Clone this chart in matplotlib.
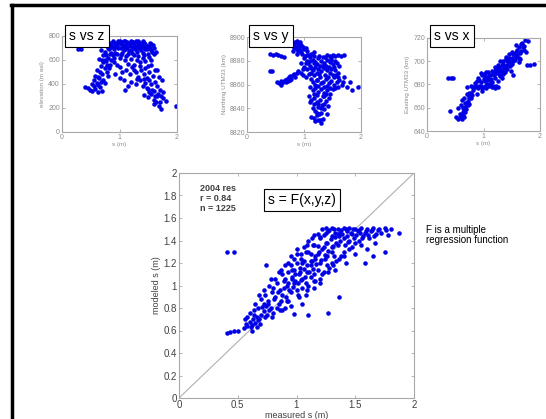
import matplotlib.pyplot as plt
from matplotlib.lines import Line2D

plt.rcParams['font.family'] = ['Liberation Sans', 'DejaVu Sans']

s_vs_z = [
    (0.27, 690), (0.33, 688), (0.40, 378), (0.45, 365), (0.48, 350), (0.52, 342),
    (0.55, 380), (0.58, 355), (0.62, 330), (0.60, 410), (0.66, 372), (0.70, 345),
    (0.58, 470), (0.62, 455), (0.66, 500), (0.60, 520), (0.70, 480), (0.72, 430),
    (0.75, 410), (0.68, 550), (0.74, 530), (0.78, 500), (0.80, 470), (0.65, 610),
    (0.70, 600), (0.72, 640), (0.77, 590), (0.80, 620), (0.84, 560), (0.86, 600),
    (0.90, 580), (0.68, 680), (0.75, 670), (0.80, 700), (0.85, 660), (0.90, 690),
    (0.95, 650), (0.98, 700), (1.00, 620), (1.05, 660), (1.10, 690), (1.15, 650),
    (1.20, 680), (1.25, 640), (1.30, 670), (1.35, 700), (1.40, 660), (1.45, 690),
    (1.50, 650), (1.55, 680), (1.60, 700), (0.85, 730), (0.92, 745), (1.00, 760),
    (1.05, 735), (1.10, 755), (1.15, 740), (1.20, 760), (1.25, 735), (1.30, 750),
    (1.35, 740), (1.40, 755), (1.45, 730), (1.50, 720), (1.55, 735), (0.95, 720),
    (1.08, 715), (1.18, 715), (1.28, 712), (1.38, 718), (1.48, 705), (1.10, 600),
    (1.15, 570), (1.20, 610), (1.25, 560), (1.30, 600), (1.35, 580), (1.40, 620),
    (1.45, 590), (1.50, 550), (1.55, 600), (1.12, 520), (1.18, 480), (1.22, 540),
    (1.28, 500), (1.32, 460), (1.38, 520), (1.42, 480), (1.48, 450), (1.52, 500),
    (1.58, 470), (1.62, 520), (1.68, 460), (1.20, 420), (1.28, 400), (1.35, 430),
    (1.40, 380), (1.45, 410), (1.50, 360), (1.55, 400), (1.60, 340), (1.65, 380),
    (1.70, 350), (1.75, 330), (1.42, 310), (1.50, 290), (1.55, 320), (1.60, 270),
    (1.65, 300), (1.70, 250), (1.75, 280), (1.60, 230), (1.68, 220), (1.72, 190),
    (1.80, 260), (1.98, 215), (0.95, 560), (1.00, 540), (1.05, 500), (0.92, 480),
    (1.00, 450), (1.08, 430), (1.15, 380), (1.10, 350), (0.88, 640), (0.82, 690),
    (1.02, 730), (1.12, 725), (1.22, 748), (1.32, 728), (1.42, 745), (1.52, 712),
    (0.97, 742), (1.07, 680), (1.17, 675), (1.27, 690), (1.37, 685), (1.47, 690),
    (1.57, 670), (1.63, 665), (0.90, 620), (1.60, 650), (1.66, 520), (1.74, 430),
    (0.83, 745), (0.88, 755), (0.93, 735), (0.98, 755), (1.03, 748), (1.08, 762),
    (1.13, 752), (1.18, 738), (1.23, 752), (1.28, 762), (1.33, 755), (1.38, 732),
    (1.43, 740), (1.53, 745), (1.58, 725), (0.78, 715), (0.86, 710), (0.91, 705),
    (1.03, 700), (1.13, 702), (1.23, 705), (1.33, 698), (1.43, 708), (1.53, 700),
    (0.76, 640), (0.83, 650), (0.92, 660), (1.02, 645), (1.12, 630), (1.22, 655),
    (1.32, 635), (1.42, 640), (1.52, 625), (0.72, 580), (0.78, 560), (0.74, 600),
    (0.82, 530), (0.64, 450), (0.68, 420), (0.56, 430), (0.62, 390), (0.53, 400),
    (1.35, 550), (1.45, 530), (1.55, 560), (1.25, 520), (1.30, 440), (1.42, 440),
    (1.52, 430), (1.62, 420), (1.47, 370), (1.57, 350), (1.67, 320), (1.62, 300),
    (1.52, 330), (1.72, 300), (1.64, 250),
]

# s vs y  (northing UTM33, km)
s_vs_y = [
    (0.78, 8895), (0.85, 8896), (0.90, 8894), (0.95, 8893), (0.82, 8891), (0.88, 8890),
    (0.93, 8889), (1.00, 8890), (1.05, 8888), (0.80, 8888), (0.87, 8886), (0.97, 8886),
    (1.02, 8884), (1.08, 8885), (0.92, 8892), (0.40, 8886), (0.45, 8885), (0.50, 8886),
    (0.55, 8885), (0.60, 8884), (0.65, 8883), (0.40, 8871), (0.43, 8871), (0.52, 8862),
    (0.56, 8861), (0.60, 8863), (0.63, 8862), (0.66, 8864), (0.70, 8865), (0.73, 8866),
    (0.76, 8867), (0.80, 8868), (0.83, 8869), (0.87, 8870), (0.90, 8871), (0.60, 8860),
    (0.68, 8862), (0.75, 8864), (0.85, 8866), (1.40, 8885), (1.45, 8884), (1.50, 8885),
    (1.55, 8884), (1.60, 8885), (1.65, 8884), (1.70, 8885), (1.60, 8870), (1.70, 8866),
    (1.75, 8858), (1.80, 8862), (1.85, 8855), (1.95, 8858), (1.00, 8882), (1.05, 8880),
    (1.10, 8883), (1.15, 8881), (1.20, 8879), (1.25, 8882), (1.30, 8880), (1.35, 8878),
    (1.40, 8881), (1.45, 8879), (1.50, 8877), (1.55, 8880), (1.00, 8875), (1.05, 8873),
    (1.10, 8876), (1.15, 8872), (1.20, 8875), (1.25, 8873), (1.30, 8871), (1.35, 8874),
    (1.40, 8872), (1.45, 8870), (1.50, 8868), (1.55, 8872), (1.60, 8866), (0.98, 8868),
    (1.03, 8866), (1.08, 8869), (1.13, 8865), (1.18, 8868), (1.23, 8864), (1.28, 8866),
    (1.33, 8862), (1.38, 8865), (1.43, 8861), (1.48, 8863), (1.53, 8860), (1.58, 8862),
    (1.10, 8858), (1.15, 8855), (1.20, 8857), (1.25, 8854), (1.30, 8856), (1.35, 8853),
    (1.40, 8855), (1.45, 8852), (1.50, 8856), (1.08, 8850), (1.12, 8847), (1.18, 8849),
    (1.22, 8845), (1.28, 8847), (1.32, 8843), (1.38, 8846), (1.42, 8842), (1.15, 8840),
    (1.20, 8838), (1.25, 8841), (1.30, 8836), (1.35, 8839), (1.40, 8835), (1.12, 8833),
    (1.18, 8832), (1.22, 8834), (1.28, 8830), (1.33, 8831), (1.20, 8829), (1.25, 8830),
    (1.30, 8828), (1.10, 8845), (1.35, 8850), (0.95, 8878), (1.12, 8886), (1.17, 8887),
    (1.27, 8884), (1.37, 8883), (1.47, 8882), (1.62, 8876), (1.66, 8860), (1.03, 8878),
    (1.13, 8870), (1.23, 8864),
    (0.83, 8894), (0.88, 8897), (0.93, 8896), (0.98, 8892), (1.03, 8891), (0.86, 8892),
    (0.90, 8888), (0.95, 8887), (1.05, 8885), (1.10, 8880), (1.18, 8884), (1.22, 8877),
    (1.28, 8876), (1.33, 8883), (1.38, 8876), (1.43, 8875), (1.48, 8881), (1.53, 8875),
    (1.58, 8878), (1.07, 8878), (1.12, 8874), (1.17, 8878), (1.22, 8870), (1.27, 8869),
    (1.32, 8876), (1.37, 8868), (1.42, 8866), (1.47, 8873), (1.52, 8866), (1.57, 8868),
    (1.62, 8864), (1.68, 8862), (1.15, 8862), (1.20, 8860), (1.25, 8859), (1.30, 8861),
    (1.35, 8858), (1.40, 8859), (1.45, 8857), (1.55, 8857), (1.60, 8858), (1.18, 8852),
    (1.23, 8851), (1.33, 8850), (1.38, 8852), (1.43, 8849), (1.25, 8844), (1.30, 8840),
    (1.35, 8844), (1.22, 8836), (1.27, 8835), (1.17, 8844), (0.95, 8870), (0.98, 8873),
    (0.78, 8865), (0.72, 8863),
]

# s vs x  (easting UTM33, km)
s_vs_x = [
    (0.37, 686), (0.42, 686), (0.46, 686), (0.40, 657), (0.52, 652), (0.55, 650),
    (0.58, 655), (0.60, 653), (0.63, 656), (0.55, 660), (0.60, 662), (0.65, 658),
    (0.68, 661), (0.70, 664), (0.62, 667), (0.66, 668), (0.72, 666), (0.75, 670),
    (0.78, 668), (0.70, 672), (0.74, 673), (0.80, 671), (0.82, 675), (0.70, 678),
    (0.78, 679), (0.85, 678), (0.90, 677), (0.95, 679), (1.00, 678), (1.05, 677),
    (1.10, 679), (1.15, 678), (1.20, 677), (1.25, 678), (0.85, 681), (0.88, 683),
    (0.92, 684), (0.95, 682), (1.00, 685), (1.02, 687), (1.05, 684), (1.08, 686),
    (1.12, 688), (0.95, 690), (1.00, 689), (1.05, 691), (1.10, 688), (1.15, 692),
    (1.18, 690), (1.22, 693), (1.25, 695), (1.28, 692), (1.10, 684), (1.15, 682),
    (1.20, 686), (1.25, 683), (1.30, 687), (1.35, 689), (1.38, 691), (1.42, 693),
    (1.20, 695), (1.25, 697), (1.30, 694), (1.35, 698), (1.40, 696), (1.45, 700),
    (1.50, 698), (1.35, 700), (1.40, 702), (1.45, 699), (1.50, 703), (1.55, 701),
    (1.60, 705), (1.65, 702), (1.45, 706), (1.50, 708), (1.55, 705), (1.60, 710),
    (1.65, 707), (1.70, 712), (1.75, 708), (1.58, 714), (1.62, 712), (1.68, 716),
    (1.72, 713), (1.78, 717), (1.77, 697), (1.83, 697), (1.90, 698), (1.32, 686),
    (1.48, 692), (1.52, 688), (1.62, 699), (1.40, 704), (1.30, 700), (1.18, 688),
    (0.98, 674), (0.88, 672), (0.75, 663), (0.66, 652),
    (0.57, 651), (0.62, 650), (0.64, 654), (0.67, 656), (0.69, 659), (0.72, 662),
    (0.63, 660), (0.67, 664), (0.74, 668), (0.77, 673), (0.82, 678), (0.87, 679),
    (0.92, 679), (0.97, 677), (1.02, 679), (1.07, 680), (1.12, 680), (1.17, 679),
    (1.22, 679), (0.90, 686), (0.98, 688), (1.03, 683), (1.08, 691), (1.13, 685),
    (1.17, 689), (1.22, 690), (1.27, 689), (1.32, 692), (1.37, 694), (1.42, 697),
    (1.47, 696), (1.52, 700), (1.57, 704), (1.62, 703), (1.67, 709), (1.72, 710),
    (1.67, 715), (1.74, 718), (1.57, 708), (1.52, 706), (1.45, 703), (1.42, 700),
    (1.33, 697), (1.27, 694), (1.20, 692),
]

# measured vs modeled s (m)
meas_vs_model = [
    (0.41, 0.58), (0.43, 0.59), (0.47, 0.60), (0.50, 0.60), (0.55, 0.62), (0.57, 0.66),
    (0.58, 0.64), (0.60, 0.68), (0.62, 0.65), (0.63, 0.70), (0.65, 0.67), (0.66, 0.72),
    (0.68, 0.70), (0.69, 0.66), (0.70, 0.74), (0.60, 0.76), (0.64, 0.78), (0.67, 0.80),
    (0.72, 0.77), (0.74, 0.82), (0.75, 0.74), (0.78, 0.80), (0.80, 0.76), (0.70, 0.88),
    (0.73, 0.92), (0.76, 0.86), (0.79, 0.94), (0.82, 0.90), (0.85, 0.84), (0.88, 0.92),
    (0.90, 0.80), (0.92, 0.86), (0.95, 0.82), (0.80, 0.98), (0.83, 1.02), (0.86, 0.96),
    (0.89, 1.04), (0.92, 1.00), (0.95, 0.94), (0.98, 1.02), (1.00, 0.96), (1.02, 0.90),
    (1.05, 0.98), (1.08, 0.92), (0.88, 1.10), (0.90, 1.06), (0.93, 1.12), (0.96, 1.08),
    (0.99, 1.04), (1.02, 1.10), (1.05, 1.06), (1.08, 1.02), (1.10, 1.00), (1.12, 1.08),
    (1.15, 1.04), (0.95, 1.18), (0.98, 1.14), (1.00, 1.20), (1.03, 1.16), (1.06, 1.22),
    (1.09, 1.12), (1.12, 1.18), (1.15, 1.10), (1.18, 1.14), (1.20, 1.06), (1.23, 1.12),
    (1.00, 1.28), (1.04, 1.24), (1.08, 1.30), (1.12, 1.22), (1.16, 1.26), (1.20, 1.20),
    (1.24, 1.24), (1.28, 1.16), (1.30, 1.20), (1.33, 1.14), (1.06, 1.34), (1.10, 1.30),
    (1.14, 1.36), (1.18, 1.28), (1.22, 1.32), (1.26, 1.26), (1.30, 1.30), (1.34, 1.22),
    (1.38, 1.26), (1.42, 1.20), (1.10, 1.40), (1.15, 1.36), (1.20, 1.42), (1.25, 1.38),
    (1.30, 1.34), (1.35, 1.36), (1.40, 1.30), (1.45, 1.32), (1.50, 1.28), (1.15, 1.45),
    (1.20, 1.43), (1.25, 1.47), (1.30, 1.44), (1.35, 1.46), (1.40, 1.42), (1.45, 1.40),
    (1.50, 1.38), (1.55, 1.36), (1.60, 1.32), (1.22, 1.50), (1.27, 1.48), (1.32, 1.50),
    (1.37, 1.47), (1.42, 1.50), (1.47, 1.46), (1.52, 1.48), (1.57, 1.44), (1.62, 1.42),
    (1.67, 1.38), (1.25, 1.51), (1.30, 1.51), (1.35, 1.50), (1.40, 1.51), (1.45, 1.51),
    (1.50, 1.50), (1.55, 1.51), (1.60, 1.50), (1.65, 1.51), (1.70, 1.50), (1.75, 1.51),
    (1.80, 1.50), (1.28, 1.49), (1.33, 1.47), (1.38, 1.49), (1.43, 1.48), (1.48, 1.50),
    (1.53, 1.49), (1.58, 1.47), (1.63, 1.48), (1.68, 1.46), (0.41, 1.30), (0.47, 1.30),
    (0.74, 1.18), (1.75, 1.30), (1.87, 1.47), (1.27, 0.76), (1.36, 0.90), (1.05, 0.84),
    (1.10, 0.74), (0.98, 0.75), (0.85, 1.12), (0.90, 1.18), (0.78, 1.06), (0.72, 0.84),
    (0.88, 0.78), (0.95, 1.26), (1.00, 1.32), (1.15, 0.98), (1.20, 1.02), (1.58, 1.20),
    (1.65, 1.26),
    (0.56, 0.70), (0.58, 0.72), (0.61, 0.63), (0.64, 0.74), (0.67, 0.69), (0.71, 0.81),
    (0.73, 0.72), (0.76, 0.84), (0.77, 0.78), (0.81, 0.88), (0.83, 0.80), (0.84, 0.94),
    (0.87, 0.86), (0.89, 0.98), (0.91, 0.90), (0.93, 1.02), (0.94, 0.96), (0.96, 1.06),
    (0.97, 0.99), (0.99, 1.10), (1.01, 1.02), (1.03, 1.12), (1.04, 1.05), (1.06, 1.15),
    (1.07, 1.08), (1.09, 1.18), (1.11, 1.12), (1.13, 1.22), (1.14, 1.15), (1.16, 1.24),
    (1.17, 1.19), (1.19, 1.30), (1.21, 1.23), (1.23, 1.34), (1.24, 1.27), (1.26, 1.38),
    (1.27, 1.31), (1.29, 1.41), (1.31, 1.35), (1.33, 1.43), (1.34, 1.38), (1.36, 1.44),
    (1.37, 1.40), (1.39, 1.46), (1.41, 1.36), (1.43, 1.44), (1.44, 1.39), (1.46, 1.47),
    (1.49, 1.42), (1.51, 1.45), (1.54, 1.47), (1.56, 1.42), (1.59, 1.48), (1.61, 1.45),
    (1.64, 1.49), (1.66, 1.44), (1.69, 1.49), (1.72, 1.47), (1.76, 1.49), (1.78, 1.45),
    (0.62, 0.60), (0.66, 0.63), (0.79, 0.72), (0.86, 0.78), (0.93, 0.86), (1.01, 0.92),
    (1.09, 0.96), (1.16, 1.04), (1.22, 1.10), (1.27, 1.12), (1.31, 1.18), (1.36, 1.24),
    (1.40, 1.26), (1.47, 1.34), (1.53, 1.40), (0.72, 0.96), (0.77, 1.00), (0.82, 1.06),
    (0.87, 1.14), (0.93, 1.20), (0.98, 1.24), (1.04, 1.28), (1.09, 1.36), (1.13, 1.42),
    (1.18, 1.46), (1.23, 1.45), (0.68, 0.92), (0.65, 0.84), (1.32, 1.26), (1.26, 1.18),
    (1.18, 1.35), (1.05, 1.20), (0.96, 1.14), (1.12, 1.28),
]

blue = '#0000e6'
light = '#8c8c8c'
dark = '#404040'

fig = plt.figure(figsize=(5.46, 4.19), dpi=100)

# slide frame
fig.add_artist(Line2D([12 / 546, 12 / 546], [0, 1 - 5 / 419], color='black', lw=2.5))
fig.add_artist(Line2D([11 / 546, 1], [1 - 5.5 / 419, 1 - 5.5 / 419], color='black', lw=2.5))


def style(ax, color, size):
    for sp in ax.spines.values():
        sp.set_color('#a8a8a8')
        sp.set_linewidth(0.8)
    ax.tick_params(direction='in', top=True, right=True, length=2.5, width=0.6,
                   color='#a8a8a8', labelcolor=color, labelsize=size, pad=1.5)


small = [
    ([62, 36, 177, 132], s_vs_z, (0, 800), [0, 200, 400, 600, 800],
     'elevation (m asl)', 's vs z', 63),
    ([247, 37, 361, 132], s_vs_y, (8820, 8900), [8820, 8840, 8860, 8880, 8900],
     'Northing UTM33 (km)', 's vs y', 247),
    ([427, 38, 540, 131], s_vs_x, (640, 720), [640, 660, 680, 700, 720],
     'Easting UTM33 (km)', 's vs x', 428),
]

for box, pts, ylim, yt, ylab, title, tx in small:
    x0, y0, x1, y1 = box
    ax = fig.add_axes([x0 / 546, 1 - y1 / 419, (x1 - x0) / 546, (y1 - y0) / 419])
    xs, ys = zip(*pts)
    ax.plot(xs, ys, '.', color=blue, ms=4.5)
    ax.set_xlim(0, 2)
    ax.set_ylim(*ylim)
    ax.set_xticks([0, 1, 2])
    ax.set_yticks(yt)
    ax.set_xlabel('s (m)', fontsize=4.5, color=light, labelpad=1)
    ax.set_ylabel(ylab, fontsize=4.5, color=light, labelpad=2)
    style(ax, light, 5)
    fig.text((tx + 24) / 546, 1 - 36 / 419, title, fontsize=10, ha='center', va='center',
             bbox=dict(boxstyle='square,pad=0.3', fc='white', ec='black', lw=0.8))

ax = fig.add_axes([179 / 546, 1 - 398 / 419, 235 / 546, 225 / 419])
ax.plot([0, 2], [0, 2], color='#b0b0b0', lw=0.8)
mx, my = zip(*meas_vs_model)
ax.plot(mx, my, '.', color=blue, ms=4.5)
ax.set_xlim(0, 2)
ax.set_ylim(0, 2)
ax.set_xticks([0, 0.5, 1, 1.5, 2])
ax.set_xticklabels(['0', '0.5', '1', '1.5', '2'])
ax.set_yticks([0, 0.2, 0.4, 0.6, 0.8, 1, 1.2, 1.4, 1.6, 1.8, 2])
ax.set_yticklabels(['0', '0.2', '0.4', '0.6', '0.8', '1', '1.2', '1.4', '1.6', '1.8', '2'])
ax.set_xlabel('measured s (m)', fontsize=6.5, color=dark, labelpad=1)
ax.set_ylabel('modeled s (m)', fontsize=6.5, color=dark, labelpad=2)
style(ax, dark, 7)

ax.text(0.09, 0.95, '2004 res\nr = 0.84\nn = 1225', transform=ax.transAxes, fontsize=6.5,
        color=dark, fontweight='bold', va='top', ha='left', linespacing=1.1)
fig.text(302 / 546, 1 - 200 / 419, 's = F(x,y,z)', fontsize=10, ha='center', va='center',
         bbox=dict(boxstyle='square,pad=0.3', fc='white', ec='black', lw=0.8))
fig.text(426 / 546, 1 - 235 / 419, 'F is a multiple\nregression function', fontsize=7,
         ha='left', va='center', linespacing=1.0)

fig.savefig('out.png', dpi=100)
